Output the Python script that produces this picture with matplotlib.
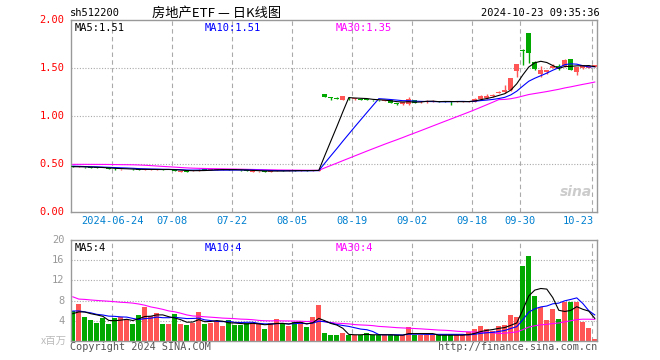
import numpy as np
import pandas as pd
import matplotlib
matplotlib.use("Agg")
import matplotlib.pyplot as plt

# trading days shown (holidays removed)
holidays = ["2024-09-16", "2024-09-17", "2024-10-01", "2024-10-02",
            "2024-10-03", "2024-10-04", "2024-10-07"]
dates = pd.bdate_range("2024-06-13", "2024-10-23")
dates = dates[~dates.isin(pd.to_datetime(holidays))]

tick_dates = ["2024-06-24", "2024-07-08", "2024-07-22", "2024-08-05", "2024-08-19",
              "2024-09-02", "2024-09-18", "2024-09-30", "2024-10-23"]
tick_labels = ["2024-06-24", "07-08", "07-22", "08-05", "08-19",
               "09-02", "09-18", "09-30", "10-23"]

open_ = [0.478, 0.470, 0.474, 0.468, 0.466, 0.465, 0.460, 0.456, 0.447, 0.448,
         0.452, 0.447, 0.438, 0.443, 0.445, 0.448, 0.440, 0.443, 0.425, 0.432,
         0.428, 0.432, 0.445, 0.440, 0.443, 0.444, 0.447, 0.443, 0.440, 0.437,
         0.425, 0.426, 0.430, 0.425, 0.428, 0.436, 0.432, 0.437, 0.433, 0.437,
         0.433, 0.435, 1.232, 1.195, 1.195, 1.175, 1.190, 1.180, 1.180, 1.178,
         1.172, 1.170, 1.160, 1.165, 1.140, 1.128, 1.130, 1.165, 1.145, 1.145,
         1.150, 1.158, 1.155, 1.152, 1.148, 1.148, 1.150, 1.152, 1.181, 1.190,
         1.215, 1.245, 1.255, 1.270, 1.475, 1.695, 1.868, 1.562, 1.444, 1.465,
         1.506, 1.520, 1.520, 1.600, 1.461, 1.499, 1.506, 1.513]
close = [0.474, 0.476, 0.468, 0.466, 0.463, 0.460, 0.455, 0.448, 0.452, 0.452,
         0.446, 0.440, 0.447, 0.448, 0.450, 0.443, 0.443, 0.435, 0.430, 0.425,
         0.435, 0.445, 0.440, 0.445, 0.447, 0.447, 0.443, 0.440, 0.436, 0.433,
         0.430, 0.430, 0.425, 0.430, 0.435, 0.432, 0.436, 0.433, 0.437, 0.434,
         0.437, 0.440, 1.205, 1.190, 1.183, 1.210, 1.187, 1.183, 1.175, 1.170,
         1.168, 1.165, 1.165, 1.140, 1.125, 1.150, 1.180, 1.140, 1.150, 1.160,
         1.160, 1.153, 1.150, 1.148, 1.155, 1.156, 1.158, 1.181, 1.215, 1.215,
         1.225, 1.250, 1.274, 1.400, 1.545, 1.685, 1.663, 1.493, 1.479, 1.482,
         1.527, 1.515, 1.590, 1.486, 1.510, 1.530, 1.527, 1.530]
high = [0.480, 0.478, 0.475, 0.470, 0.468, 0.466, 0.461, 0.457, 0.453, 0.454,
        0.453, 0.448, 0.448, 0.450, 0.452, 0.449, 0.445, 0.444, 0.432, 0.433,
        0.436, 0.447, 0.446, 0.446, 0.449, 0.449, 0.448, 0.444, 0.441, 0.438,
        0.432, 0.432, 0.431, 0.431, 0.436, 0.437, 0.437, 0.438, 0.438, 0.438,
        0.438, 0.442, 1.232, 1.200, 1.200, 1.215, 1.198, 1.190, 1.185, 1.180,
        1.175, 1.172, 1.168, 1.168, 1.142, 1.152, 1.200, 1.168, 1.155, 1.170,
        1.165, 1.160, 1.158, 1.155, 1.158, 1.158, 1.162, 1.190, 1.220, 1.230,
        1.232, 1.265, 1.326, 1.400, 1.545, 1.700, 1.868, 1.575, 1.520, 1.482,
        1.550, 1.541, 1.600, 1.600, 1.510, 1.535, 1.530, 1.535]
low = [0.470, 0.468, 0.466, 0.464, 0.461, 0.458, 0.453, 0.440, 0.445, 0.446,
       0.444, 0.438, 0.436, 0.441, 0.443, 0.441, 0.438, 0.433, 0.420, 0.420,
       0.426, 0.430, 0.438, 0.438, 0.441, 0.442, 0.441, 0.438, 0.434, 0.431,
       0.422, 0.423, 0.423, 0.423, 0.426, 0.430, 0.430, 0.431, 0.431, 0.432,
       0.431, 0.433, 1.200, 1.175, 1.180, 1.165, 1.175, 1.170, 1.165, 1.165,
       1.163, 1.160, 1.155, 1.135, 1.118, 1.120, 1.120, 1.135, 1.140, 1.140,
       1.145, 1.148, 1.145, 1.115, 1.145, 1.145, 1.146, 1.145, 1.175, 1.185,
       1.205, 1.240, 1.240, 1.260, 1.413, 1.534, 1.558, 1.480, 1.410, 1.437,
       1.500, 1.486, 1.515, 1.480, 1.430, 1.490, 1.500, 1.510]
volume = [5.9, 7.4, 4.8, 4.1, 3.5, 4.5, 3.3, 4.5, 4.7, 4.3,
          3.3, 5.1, 6.7, 5.0, 5.6, 3.3, 3.3, 5.4, 3.3, 3.1,
          3.5, 5.7, 3.3, 3.6, 3.9, 2.9, 4.1, 3.1, 3.1, 3.5,
          3.5, 3.5, 2.3, 3.6, 4.3, 3.5, 2.9, 3.8, 3.8, 2.7,
          4.7, 7.2, 1.5, 1.1, 1.1, 1.5, 1.1, 1.1, 1.1, 1.5,
          1.1, 1.1, 1.1, 1.1, 1.1, 1.1, 2.7, 1.1, 1.1, 1.1,
          1.1, 1.1, 1.1, 1.1, 1.1, 1.1, 1.7, 2.3, 2.9, 2.3,
          1.9, 2.9, 3.1, 5.1, 4.7, 14.8, 16.9, 8.9, 6.7, 4.1,
          6.3, 4.3, 7.7, 7.8, 7.8, 3.7, 2.5, 0.4]

# sessions before the window, needed for the moving averages
prev_close = [0.468, 0.472, 0.475, 0.470, 0.466, 0.470, 0.478, 0.474, 0.469, 0.472,
              0.500, 0.535, 0.560, 0.575, 0.568, 0.552, 0.548, 0.556, 0.540, 0.520,
              0.500, 0.490, 0.485, 0.478, 0.482, 0.479, 0.474, 0.476, 0.473]
prev_volume = [21.0, 6.7, 7.5, 6.3, 7.0, 5.7, 7.3, 8.0, 6.1, 6.5,
               10.5, 13.8, 15.2, 12.4, 11.0, 12.8, 10.6, 11.9, 13.1, 9.8,
               7.2, 6.8, 5.9, 6.5, 5.8, 5.6, 4.9, 5.8, 4.7]

RED = "#ff5555"
GREEN = "#00a800"
GRID = "#aaaaaa"
FRAME = "#999999"
LW = 0.8

n = len(close)
x = np.arange(n)
o = np.array(open_)
c = np.array(close)
up = c >= o
colors = np.where(up, RED, GREEN)


def ma(prev, vals, w):
    s = pd.Series(prev + vals)
    return s.rolling(w).mean().values[-len(vals):]


fig = plt.figure(figsize=(6.6, 3.6), dpi=100)


def fx(px):
    return px / 660


def fy(py):
    return 1 - py / 360


ax = fig.add_axes([fx(70.7), fy(212.3), fx(597.3) - fx(70.7), fy(20.3) - fy(212.3)])
axv = fig.add_axes([fx(70.7), fy(340.7), fx(597.3) - fx(70.7), fy(240.3) - fy(340.7)])

tick_x = [dates.get_loc(pd.Timestamp(d)) - 0.42 for d in tick_dates]

for a in (ax, axv):
    a.set_xlim(-0.35, n - 0.58)
    for s in a.spines.values():
        s.set_color(FRAME)
        s.set_linewidth(1.0)
    a.set_xticks([])
    a.set_yticks([])
    for t in tick_x:
        a.axvline(t, color=GRID, lw=0.8, ls=(0, (4, 3)), zorder=0)

# price panel
ax.set_ylim(0, 2.0)
for v in [0.5, 1.0, 1.5]:
    ax.axhline(v, color=GRID, lw=0.8, ls=(0, (1, 1.5)), zorder=0)
ax.vlines(x, low, high, colors=colors, lw=1, zorder=2)
body = np.maximum(np.abs(c - o), 0.006)
ax.bar(x, body, bottom=np.minimum(o, c), width=0.8, color=colors, lw=0, zorder=3)
ax.plot(x, ma(prev_close, close, 30), color="#ff00ff", lw=LW, zorder=4)
ax.plot(x, ma(prev_close, close, 10), color="#0000ff", lw=LW, zorder=4)
ax.plot(x, ma(prev_close, close, 5), color="black", lw=LW, zorder=5)

for v in [0.0, 0.5, 1.0, 1.5, 2.0]:
    ax.text(-0.012, v, "%.2f" % v, transform=ax.get_yaxis_transform(),
            ha="right", va="center", color="red", fontsize=7.5, family="DejaVu Sans Mono")

for t, lab in zip(tick_x, tick_labels):
    ha = "center"
    xx = t
    if lab == tick_labels[-1]:
        ha = "right"
        xx = t + 0.3
    ax.text(xx, -0.045, lab, transform=ax.get_xaxis_transform(), ha=ha, va="center",
            color="#0080d0", fontsize=7.5, family="DejaVu Sans Mono")

ax.text(0.007, 0.985, "MA5:1.51", transform=ax.transAxes, ha="left", va="top",
        color="black", fontsize=7.5, family="DejaVu Sans Mono")
ax.text(0.255, 0.985, "MA10:1.51", transform=ax.transAxes, ha="left", va="top",
        color="#0000ff", fontsize=7.5, family="DejaVu Sans Mono")
ax.text(0.504, 0.985, "MA30:1.35", transform=ax.transAxes, ha="left", va="top",
        color="#ff00ff", fontsize=7.5, family="DejaVu Sans Mono")
ax.text(0.99, 0.07, "sina", transform=ax.transAxes, ha="right", va="bottom",
        color="#cccccc", fontsize=10, fontweight="bold", style="italic", zorder=1)

# volume panel
axv.set_ylim(0, 20)
for v in [4, 8, 12, 16]:
    axv.axhline(v, color=GRID, lw=0.8, ls=(0, (1, 1.5)), zorder=0)
axv.bar(x, volume, width=0.8, color=colors, lw=0, zorder=2)
axv.plot(x, ma(prev_volume, volume, 30), color="#ff00ff", lw=LW, zorder=3)
axv.plot(x, ma(prev_volume, volume, 10), color="#0000ff", lw=LW, zorder=3)
axv.plot(x, ma(prev_volume, volume, 5), color="black", lw=LW, zorder=4)

for v in [4, 8, 12, 16, 20]:
    axv.text(-0.012, v, str(v), transform=axv.get_yaxis_transform(),
             ha="right", va="center", color="#999999", fontsize=7.5, family="DejaVu Sans Mono")
axv.text(-0.008, 0, "x百万", transform=axv.get_yaxis_transform(), ha="right", va="center",
         color="#bbbbbb", fontsize=7.5, family=["Noto Sans CJK SC", "DejaVu Sans"])

axv.text(0.007, 0.975, "MA5:4", transform=axv.transAxes, ha="left", va="top",
         color="black", fontsize=7.5, family="DejaVu Sans Mono")
axv.text(0.255, 0.975, "MA10:4", transform=axv.transAxes, ha="left", va="top",
         color="#0000ff", fontsize=7.5, family="DejaVu Sans Mono")
axv.text(0.504, 0.975, "MA30:4", transform=axv.transAxes, ha="left", va="top",
         color="#ff00ff", fontsize=7.5, family="DejaVu Sans Mono")

# header and footer
fig.text(fx(70), fy(13), "sh512200", ha="left", va="center", fontsize=7.5,
         family="DejaVu Sans Mono", color="black")
fig.text(fx(152), fy(13), "房地产ETF — 日K线图", ha="left", va="center", fontsize=9.5,
         family=["Noto Sans CJK SC", "DejaVu Sans"], color="black")
fig.text(fx(600), fy(13), "2024-10-23 09:35:36", ha="right", va="center", fontsize=7.5,
         family="DejaVu Sans Mono", color="black")
fig.text(fx(70), fy(347), "Copyright 2024 SINA.COM", ha="left", va="center", fontsize=7.3,
         family="DejaVu Sans Mono", color="#555555")
fig.text(fx(597), fy(347), "http://finance.sina.com.cn", ha="right", va="center", fontsize=7.3,
         family="DejaVu Sans Mono", color="#555555")

fig.savefig("out.png", dpi=100)
